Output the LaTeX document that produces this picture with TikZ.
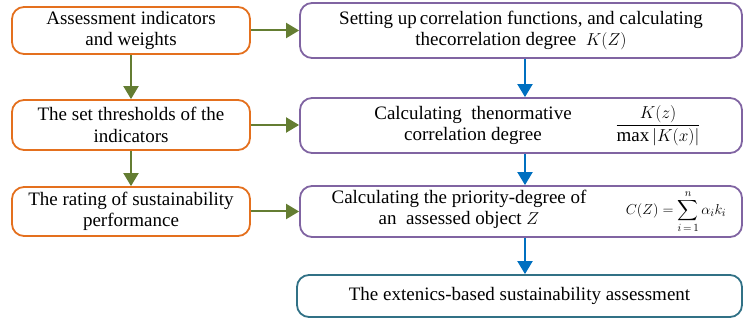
\documentclass[tikz,border=0pt]{standalone}
\usepackage{fontspec}
\setmainfont{Liberation Serif}
\usepackage{amsmath}
\usetikzlibrary{arrows.meta}
\definecolor{boxorange}{RGB}{228,112,30}
\definecolor{boxpurple}{RGB}{128,100,162}
\definecolor{boxteal}{RGB}{49,113,134}
\definecolor{arrgreen}{RGB}{100,125,50}
\definecolor{arrblue}{RGB}{0,112,192}

\begin{document}
\begin{tikzpicture}[x=1pt,y=-1pt,
  font=\fontsize{19}{21.5}\selectfont,
  every node/.style={align=center},
  leftbox/.style={draw=boxorange,line width=1.8pt,rounded corners=12pt,minimum width=238pt,inner sep=0pt},
  rightbox/.style={draw=boxpurple,line width=1.8pt,rounded corners=12pt,minimum width=442pt,inner sep=0pt},
  greenarr/.style={draw=arrgreen,line width=2pt,-{Triangle[length=13pt,width=15pt]}},
  bluearr/.style={draw=arrblue,line width=2pt,-{Triangle[length=13pt,width=15pt]}}]
\useasboundingbox (0,0) rectangle (745,320);
\node [leftbox,minimum height=47pt] (ind) at (131,30.5) {Assessment indicators\\and weights};
\node [leftbox,minimum height=50pt] (thr) at (131,125) {The set thresholds of the\\indicators};
\node [leftbox,minimum height=49pt] (rat) at (131,211.5) {The rating of sustainability\\performance};
\node [rightbox,minimum height=55pt] (cor) at (521,30.5) {Setting up\,correlation functions, and calculating\\thecorrelation degree ~$K(Z)$};
\node [rightbox,minimum height=55pt] (nor) at (521,125.5) {};
\node (nortext) at (473,125.5) {Calculating ~thenormative\\correlation degree};
\node (norfrac) at (658,125.5) {$\dfrac{K(z)}{\max|K(x)|}$};
\node [rightbox,minimum height=51pt] (pri) at (521,211.5) {};
\node (pritext) at (459,209.5) {Calculating the priority-degree of\\an ~assessed object $Z$};
\node [font=\fontsize{15}{17}\selectfont,inner sep=0pt] (prisum) at (676,211.5) {$C(Z)=\displaystyle\sum_{i\,=\,1}^{n}\alpha_i k_i$};
\node [rightbox,draw=boxteal,minimum width=445pt,minimum height=42pt] (ext) at (519.5,296) {The extenics-based sustainability assessment};
\draw [greenarr] (ind) -- (ind -| cor.west);
\draw [greenarr] (thr) -- (thr -| nor.west);
\draw [greenarr] (rat) -- (rat -| pri.west);
\draw [greenarr] (ind) -- (thr);
\draw [greenarr] (thr) -- (rat);
\draw [bluearr] ([xshift=4pt]cor.south) -- ([xshift=4pt]cor.south |- nor.north);
\draw [bluearr] ([xshift=4pt]nor.south) -- ([xshift=4pt]nor.south |- pri.north);
\draw [bluearr] ([xshift=4pt]pri.south) -- ([xshift=4pt]pri.south |- ext.north);
\end{tikzpicture}
\end{document}
